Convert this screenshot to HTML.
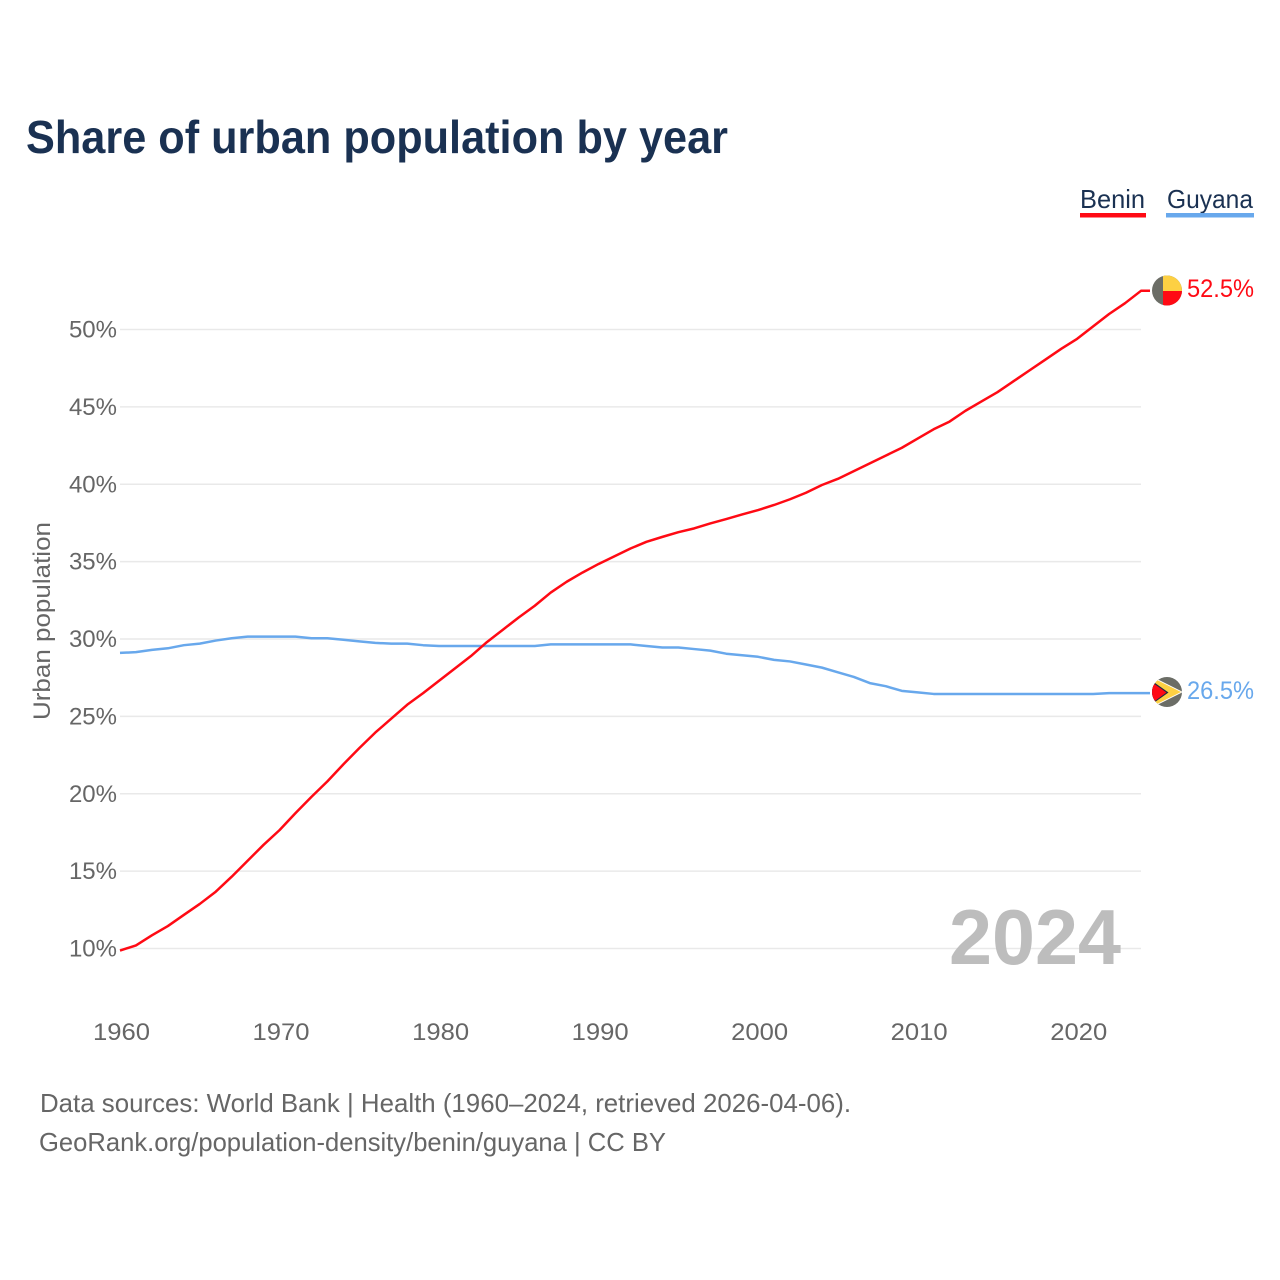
<!DOCTYPE html>
<html lang="en">
<head>
<meta charset="utf-8">
<title>Share of urban population by year</title>
<style>
html,body{margin:0;padding:0;background:#fff;}
svg{display:block;font-family:"Liberation Sans",sans-serif;}
</style>
</head>
<body>
<svg id="chart" xmlns="http://www.w3.org/2000/svg" width="1280" height="1280" viewBox="0 0 1280 1280">
  <rect x="0" y="0" width="1280" height="1280" fill="#ffffff"/>
  <text x="26" y="153" font-size="46" font-weight="700" fill="#1a3152" textLength="702" lengthAdjust="spacingAndGlyphs">Share of urban population by year</text>

  <g>
    <g>
      <text x="1080" y="208" font-size="26" fill="#1a3152" textLength="65" lengthAdjust="spacingAndGlyphs">Benin</text>
      <rect x="1080" y="213" width="66" height="4.5" fill="#ff0a14"/>
    </g>
    <g>
      <text x="1167" y="208" font-size="26" fill="#1a3152" textLength="86" lengthAdjust="spacingAndGlyphs">Guyana</text>
      <rect x="1166" y="213" width="88" height="4.5" fill="#68a8ec"/>
    </g>
  </g>

  <g id="grid"></g>
  <g id="yLabels"></g>
  <g id="xLabels"></g>
  <text transform="translate(50,720) rotate(-90)" font-size="24" fill="#666666" textLength="198" lengthAdjust="spacingAndGlyphs">Urban population</text>

  <text x="949" y="964" font-size="78" font-weight="700" fill="#bdbdbd" textLength="172" lengthAdjust="spacingAndGlyphs">2024</text>

  <g id="series"></g>

  <clipPath id="benin-clip"><circle cx="1167" cy="290.5" r="15"/></clipPath>
  <g clip-path="url(#benin-clip)">
    <rect x="1152" y="275" width="30" height="31" fill="#6b6d66"/>
    <rect x="1163" y="275" width="19" height="16" fill="#fdd043"/>
    <rect x="1163" y="291" width="19" height="15" fill="#ff0a14"/>
  </g>
  <text x="1187" y="297" font-size="25" fill="#ff0a14" textLength="67" lengthAdjust="spacingAndGlyphs">52.5%</text>

  <clipPath id="guyana-clip"><circle cx="1167" cy="692" r="15"/></clipPath>
  <g clip-path="url(#guyana-clip)">
    <rect x="1152" y="677" width="30" height="30" fill="#6b6d66"/>
    <polygon points="1154,677.5 1183,692 1154,706.5" fill="#ffffff"/>
    <polygon points="1155,679 1181,692 1155,705" fill="#fdd043"/>
    <polygon points="1150,679.5 1168.5,692.5 1150,705.5" fill="#1a2a44"/>
    <polygon points="1150,681 1166.5,692.5 1150,704.5" fill="#ff0a14"/>
  </g>
  <text x="1187" y="699" font-size="25" fill="#68a8ec" textLength="67" lengthAdjust="spacingAndGlyphs">26.5%</text>

  <text x="40" y="1112" font-size="26" fill="#666666" textLength="811" lengthAdjust="spacingAndGlyphs">Data sources: World Bank | Health (1960–2024, retrieved 2026-04-06).</text>
  <text x="39" y="1151" font-size="26" fill="#666666" textLength="627" lengthAdjust="spacingAndGlyphs">GeoRank.org/population-density/benin/guyana | CC BY</text>
</svg>
<script>
const years = [1960,1961,1962,1963,1964,1965,1966,1967,1968,1969,1970,1971,1972,1973,1974,1975,1976,1977,1978,1979,1980,1981,1982,1983,1984,1985,1986,1987,1988,1989,1990,1991,1992,1993,1994,1995,1996,1997,1998,1999,2000,2001,2002,2003,2004,2005,2006,2007,2008,2009,2010,2011,2012,2013,2014,2015,2016,2017,2018,2019,2020,2021,2022,2023,2024];
const beninValues = [9.87,10.2,10.85,11.45,12.17,12.88,13.67,14.64,15.67,16.7,17.65,18.75,19.8,20.8,21.9,22.95,23.95,24.85,25.75,26.5,27.3,28.1,28.9,29.8,30.6,31.4,32.15,33,33.7,34.3,34.85,35.35,35.85,36.28,36.6,36.9,37.15,37.47,37.75,38.05,38.33,38.66,39.03,39.45,39.95,40.35,40.85,41.35,41.85,42.35,42.95,43.55,44.05,44.75,45.35,45.95,46.65,47.35,48.05,48.75,49.4,50.2,51,51.7,52.5];
const guyanaValues = [29.1,29.15,29.3,29.4,29.6,29.7,29.9,30.05,30.15,30.15,30.15,30.15,30.05,30.05,29.95,29.85,29.75,29.7,29.7,29.6,29.55,29.55,29.55,29.55,29.55,29.55,29.55,29.65,29.65,29.65,29.65,29.65,29.65,29.55,29.45,29.45,29.35,29.25,29.05,28.95,28.85,28.65,28.55,28.35,28.15,27.85,27.55,27.15,26.95,26.65,26.55,26.45,26.45,26.45,26.45,26.45,26.45,26.45,26.45,26.45,26.45,26.45,26.5,26.5,26.5];
const yTickValues = [10,15,20,25,30,35,40,45,50];
const xTickValues = [1960,1970,1980,1990,2000,2010,2020];

const NS = 'http://www.w3.org/2000/svg';
function xScale(year){ return 120 + (year - 1960) * (1021 / 64); }
function yScale(v){ return 948.5 - (v - 10) * 15.475; }
function make(tag, attrs, parent){
  const el = document.createElementNS(NS, tag);
  for (const k in attrs) el.setAttribute(k, attrs[k]);
  parent.appendChild(el);
  return el;
}

const gridG = document.getElementById('grid');
const yG = document.getElementById('yLabels');
yTickValues.forEach(function(v){
  const line = make('line', {x1:120, x2:1141, y1:yScale(v), y2:yScale(v), stroke:'#e9e9e9', 'stroke-width':1.5}, gridG);
  
  
  const t = make('text', {x:117, y:yScale(v)+8, 'font-size':24, fill:'#666666', 'text-anchor':'end'}, yG);
  
  
  t.textContent = v + '%';
});

const xG = document.getElementById('xLabels');
xTickValues.forEach(function(y){
  const t = make('text', {x:xScale(y)+1.5, y:1040, 'font-size':24, fill:'#666666', 'text-anchor':'middle', textLength:57, lengthAdjust:'spacingAndGlyphs'}, xG);
  
  
  t.textContent = y;
});

function linePath(values){
  let d = values.map(function(v,i){
    return (i ? 'L' : 'M') + xScale(years[i]).toFixed(2) + ' ' + yScale(v).toFixed(2);
  }).join(' ');
  d += ' H1150';
  return d;
}
const seriesG = document.getElementById('series');
const guyanaLine = make('path', {d:linePath(guyanaValues), fill:'none', stroke:'#68a8ec', 'stroke-width':2.5, 'stroke-linejoin':'round'}, seriesG);


const beninLine = make('path', {d:linePath(beninValues), fill:'none', stroke:'#ff0a14', 'stroke-width':2.5, 'stroke-linejoin':'round'}, seriesG);


</script>
</body>
</html>
